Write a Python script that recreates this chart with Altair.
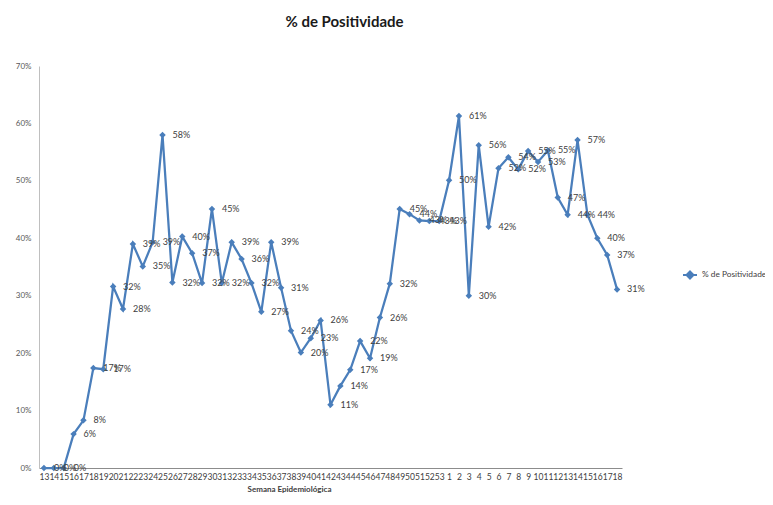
import altair as alt
import pandas as pd

weeks = [str(w) for w in range(13, 54)] + [str(w) for w in range(1, 19)]
values = [0, 0, 0, 5.9, 8.3, 17.4, 17.2, 31.6, 27.7, 39.0,
          35.1, 39.3, 58.0, 32.3, 40.3, 37.4, 32.2, 45.1, 32.2, 39.3,
          36.4, 32.2, 27.2, 39.3, 31.4, 23.9, 20.1, 22.6, 25.7, 11.0,
          14.3, 17.1, 22.1, 19.1, 26.2, 32.1, 45.1, 44.2, 43.1, 43.0,
          43.0, 50.1, 61.3, 30.0, 56.2, 42.0, 52.2, 54.1, 52.0, 55.2,
          53.3, 55.3, 47.1, 44.1, 57.1, 44.1, 40.0, 37.1, 31.1]
series_name = "% de Positividade"
y_ticks = [0, 10, 20, 30, 40, 50, 60, 70]

df = pd.DataFrame({
    "i": list(range(len(weeks))),
    "semana": weeks,
    "v": values,
    "serie": [series_name] * len(weeks),
})

label_expr = "[" + ",".join("'" + w + "'" for w in weeks) + "][datum.value]"

BLUE = "#4A7EBB"
FONT = "Lato"

x = alt.X("i:O", title="Semana Epidemiológica",
          scale=alt.Scale(type="point", padding=0.5),
          axis=alt.Axis(labelExpr=label_expr, labelAngle=0, labelOverlap=False,
                        labelFontSize=8.5, labelColor="#404040", labelFont=FONT,
                        labelPadding=4, labelBaseline="top",
                        ticks=False, domainColor="#8C8C8C", domainWidth=1,
                        titleFont=FONT, titleFontSize=8, titleFontWeight="bold",
                        titleColor="#404040", titleX=250, titleY=21,
                        titleBaseline="middle", titleAnchor="start", titleAlign="center"))
y = alt.Y("v:Q", title=None,
          scale=alt.Scale(domain=[0, 70], nice=False),
          axis=alt.Axis(values=y_ticks, labelExpr="datum.value + '%'", grid=False,
                        ticks=False, labelPadding=8, labelFontSize=8,
                        labelColor="#595959", labelFont=FONT,
                        domainColor="#BFBFBF", domainWidth=1))

base = alt.Chart(df)

line = base.mark_line(color=BLUE, strokeWidth=2.25).encode(x=x, y=y)

pts = base.mark_point(shape="diamond", filled=True, size=42, opacity=1).encode(
    x=x, y=y,
    color=alt.Color("serie:N", scale=alt.Scale(range=[BLUE]),
                    legend=alt.Legend(title=None, orient="none", legendX=643, legendY=201,
                                      symbolType="M-1,0L1,0M0,-0.5L0.5,0L0,0.5L-0.5,0Z",
                                      symbolSize=196, symbolStrokeColor=BLUE,
                                      symbolStrokeWidth=2, symbolFillColor=BLUE,
                                      labelFont=FONT, labelFontSize=8.3,
                                      labelColor="#404040", labelOffset=4)),
)

labels = base.transform_calculate(
    lab="format(datum.v, '.0f') + '%'"
).mark_text(align="left", baseline="middle", dx=10, fontSize=9, font=FONT,
            color="#404040").encode(x=x, y=y, text="lab:N")

chart = alt.layer(line, pts, labels).properties(
    width=583, height=402,
    padding={"left": 31, "top": 58, "right": 143, "bottom": 27},
    autosize=alt.AutoSizeParams(type="none"),
    title=alt.TitleParams(series_name, font=FONT, fontSize=15, fontWeight="bold",
                          color="#1a1a1a", anchor="middle", dx=14, offset=32),
).configure_view(stroke=None)

chart.save("out.html", embed_options={"renderer": "svg", "actions": False})
